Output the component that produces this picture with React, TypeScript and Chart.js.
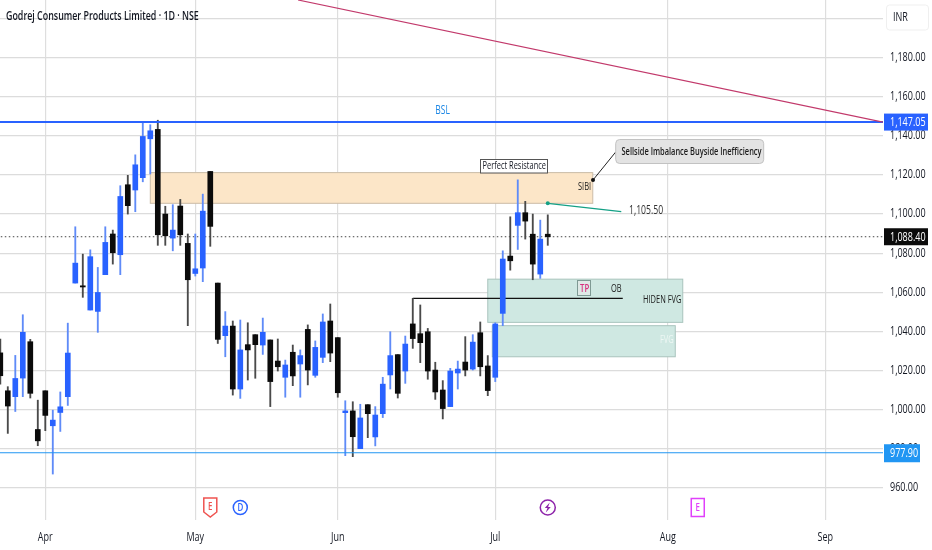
import React, { useEffect, useRef } from "react";
import { Chart, registerables } from "chart.js";

Chart.register(...registerables);

const title = "Godrej Consumer Products Limited · 1D · NSE";
const FONT = '"Open Sans", sans-serif';

// one value per session
const sessionOpen = [1029,1009.6,1006.6,1016.1,1034.7,989.8,1009.6,991.7,998.5,1006.6,1064.7,1063.3,1050.9,1050.2,1069,1089.8,1079.2,1115,1112.3,1118.6,1138.5,1143.3,1100,1087.7,1104.1,1085,1069.6,1072.4,1121.8,1064.7,1037.8,1042.7,1010.5,1033.2,1038.3,1033,1035.6,1024.8,1016.5,1029.3,1023.3,1041,1017.5,1026.7,1045.3,1036.8,998.4,999.3,980,1002.5,986,997.9,1017.7,1028.1,1019.7,1043.8,1038.8,1039.8,1020.2,1010,1001.5,1018.7,1024.3,1020.7,1039.3,1022.3,1016.5,1049.2,1078.5,1094.2,1100.7,1089.7,1069.3,1089.7];
const sessionClose = [1017.3,1001.8,1015.9,1039.5,1008.3,984,997,994.6,1001.4,1028.9,1074.9,1062.7,1078.2,1059.9,1085.5,1080.2,1109,1104.3,1125.2,1139.7,1142.6,1089.4,1088.9,1091.8,1089.4,1066.4,1072,1101.5,1093.7,1035.9,1042.7,1010.5,1030.5,1030.5,1033.2,1039.5,1014.3,1021.9,1022.8,1017.2,1027.6,1020.2,1031.8,1044.8,1028.9,1008.6,999.3,986.1,995.7,997.9,997.2,1013,1027.6,1008.3,1033.5,1036.3,1034.2,1019.7,1009,1000.5,1019.7,1020.7,1020.2,1034.5,1021.9,1009.7,1043.8,1077,1076.1,1100.7,1096.4,1074.4,1087.2,1088.4];
const sessionHigh = [1036,1011.7,1027.7,1048.5,1035.9,1004.8,1009.6,999.7,1009,1044.2,1093.5,1079.5,1081.7,1072.7,1093.5,1091.8,1114.5,1119.8,1130.3,1147,1145.7,1148,1104,1104.8,1107.5,1089.8,1089.8,1110.2,1121.8,1064.7,1050.1,1045.3,1045.8,1044.4,1038.3,1046.8,1035.6,1036.1,1025.3,1033,1030.5,1043.3,1035.1,1048.9,1054,1036.8,1004.5,1004,1002.7,1002.5,1001.5,1016.5,1039.8,1028.1,1037.6,1056.9,1053.5,1041.5,1024.2,1014.8,1021.1,1024.8,1037.3,1038.3,1044.8,1027.6,1044.4,1081.2,1098.6,1117.5,1106.5,1100,1096.9,1099.6];
const sessionLow = [1013,987.8,999,1006.6,1005.9,981.5,989.2,967,988.8,1002.1,1064.7,1057.4,1050.9,1039.5,1069,1074.4,1069,1100,1101.2,1116.5,1120.5,1084,1084,1081.2,1084,1042.9,1068.3,1065.4,1083.5,1033.8,1027,1007.4,1005.7,1015.1,1016,1028.2,1001.5,1019.7,1006.3,1012.2,1006.3,1012.6,1016.5,1024,1024.5,1006.3,976.4,975.9,980,985.6,981.4,995.9,1010.5,1005.9,1013.4,1031.3,1024,1015.5,1005.2,995.2,1001.5,1010.5,1017.2,1020.2,1017.2,1007.1,1014.3,1042.9,1071.3,1081.9,1087.2,1066.4,1067.1,1084];

const priceTicks = [1200,1180,1160,1140,1120,1100,1080,1060,1040,1020,1000,980,960];
const monthIndex = [6,26,45,66,89,110];
const monthNames = ["Apr","May","Jun","Jul","Aug","Sep"];

const bslLevel = 1147.05;
const supportLevel = 977.9;
const lastPrice = 1088.4;
const trendX = [39.7,117.7];
const trendY = [1209.5,1147.05];
const obLineX = [55,83];
const obLineY = [1056.9,1056.9];
const calloutX = [73,82.8];
const calloutY = [1105.5,1101.2];

const sibiZone = [20,79,1121.2,1105.5];
const hiddenFvgZone = [65,91,1066.7,1044.6];
const fvgZone = [65.6,90,1042.9,1027];

const BLUE = "#2962ff";
const BLACK = "#0b0b0b";
const BLUE_WICK = "#5f8bf8";
const BLACK_WICK = "#4a4a4a";
const isUp = sessionOpen.map((o, i) => sessionClose[i] >= o);

function zoneRect(chart: any, zone: number[]) {
  const { x, y } = chart.scales;
  return [x.getPixelForValue(zone[0]), y.getPixelForValue(zone[2]), x.getPixelForValue(zone[1]), y.getPixelForValue(zone[3])];
}

const zonesPlugin = {
  id: "zones",
  beforeDatasetsDraw(chart: any) {
    const { ctx } = chart;
    ctx.save();
    const paint = (zone: number[], fill: string, stroke: string) => {
      const [l, t, r, b] = zoneRect(chart, zone);
      ctx.fillStyle = fill;
      ctx.fillRect(l, t, r - l, b - t);
      ctx.strokeStyle = stroke;
      ctx.lineWidth = 1;
      ctx.strokeRect(l, t, r - l, b - t);
    };
    paint(sibiZone, "#fce6c8", "#cbbda8");
    paint(hiddenFvgZone, "#cfe8e2", "#a9c4bd");
    paint(fvgZone, "#cfe8e2", "#a9c4bd");
    ctx.restore();
  },
};

function tag(ctx: any, x: number, y: number, w: number, h: number, fill: string, text: string) {
  ctx.fillStyle = fill;
  ctx.fillRect(x, y, w, h);
  ctx.fillStyle = "#ffffff";
  ctx.textAlign = "left";
  ctx.textBaseline = "middle";
  ctx.fillText(text, x + 6, y + h / 2 + 0.5);
}

const overlayPlugin = {
  id: "overlay",
  afterDraw(chart: any) {
    const { ctx, scales } = chart;
    const xs = scales.x;
    const ys = scales.y;
    ctx.save();
    ctx.textBaseline = "middle";
    ctx.textAlign = "left";

    // title
    ctx.textSqueeze = 0.74;
    ctx.font = `600 12px ${FONT}`;
    ctx.fillStyle = "#131722";
    ctx.fillText(title, 6, 17);
    ctx.textSqueeze = 0.75;

    // INR box
    ctx.fillStyle = "#ffffff";
    ctx.strokeStyle = "#efefef";
    ctx.lineWidth = 1;
    ctx.beginPath();
    ctx.roundRect(886.5, 5, 42, 25, 3);
    ctx.fill();
    ctx.stroke();
    ctx.font = `500 12px ${FONT}`;
    ctx.fillStyle = "#131722";
    ctx.fillText("INR", 893, 18);

    // price tags
    tag(ctx, 884, ys.getPixelForValue(bslLevel) - 8.5, 44, 17, BLUE, "1,147.05");
    tag(ctx, 884, ys.getPixelForValue(lastPrice) - 8.5, 44, 17, "#0b0b0b", "1,088.40");
    tag(ctx, 884, ys.getPixelForValue(supportLevel) - 8.5, 36, 18, "#2196f3", "977.90");

    // zone labels
    ctx.textSqueeze = 0.71;
    ctx.fillStyle = "#1e88e5";
    ctx.font = `500 12px ${FONT}`;
    ctx.fillText("BSL", xs.getPixelForValue(58), ys.getPixelForValue(1153));
    ctx.fillStyle = "#1a1a1a";
    ctx.font = `500 10.5px ${FONT}`;
    ctx.fillText("SIBI", 578, 187);
    ctx.fillText("OB", 611, 289);
    ctx.fillText("HIDEN FVG", 643, 300);
    ctx.fillStyle = "#eef7f4";
    ctx.fillText("FVG", 660, 340);

    // TP box
    ctx.fillStyle = "#dfe9e6";
    ctx.strokeStyle = "#7f9a94";
    ctx.fillRect(578, 281, 12, 14);
    ctx.strokeRect(577.5, 280.5, 13, 15);
    ctx.fillStyle = "#d8317f";
    ctx.font = `600 11px ${FONT}`;
    ctx.fillText("TP", 580, 288.5);

    // Perfect Resistance
    ctx.fillStyle = "#ffffff";
    ctx.fillRect(480, 159, 68, 14);
    ctx.strokeStyle = "#555555";
    ctx.strokeRect(480.5, 159.5, 67, 13.5);
    ctx.fillStyle = "#131722";
    ctx.font = `500 10.5px ${FONT}`;
    ctx.fillText("Perfect Resistance", 482.5, 166.5);

    // Sellside note
    ctx.strokeStyle = "#222222";
    ctx.lineWidth = 1;
    ctx.beginPath();
    ctx.moveTo(615.7, 152);
    ctx.lineTo(593, 180);
    ctx.stroke();
    ctx.fillStyle = "#111111";
    ctx.beginPath();
    ctx.arc(593, 180, 2, 0, Math.PI * 2);
    ctx.fill();
    ctx.fillStyle = "#e3e3e3";
    ctx.strokeStyle = "#c2c2c2";
    ctx.beginPath();
    ctx.roundRect(615.7, 139.5, 148, 24, 4);
    ctx.fill();
    ctx.stroke();
    ctx.fillStyle = "#1a1a1a";
    ctx.font = `600 10.5px ${FONT}`;
    ctx.fillText("Sellside Imbalance Buyside Inefficiency", 621.5, 152);

    // callout
    ctx.fillStyle = "#14a085";
    ctx.beginPath();
    ctx.arc(xs.getPixelForValue(calloutX[0]), ys.getPixelForValue(calloutY[0]), 2, 0, Math.PI * 2);
    ctx.fill();
    ctx.fillStyle = "#333333";
    ctx.font = `500 12px ${FONT}`;
    ctx.textSqueeze = 0.72;
    ctx.fillText("1,105.50", 629, 211);

    // event icons
    const iconY = 507;
    const ex = xs.getPixelForValue(28);
    ctx.strokeStyle = "#ef5350";
    ctx.lineWidth = 1.5;
    ctx.beginPath();
    ctx.moveTo(ex - 6.5, iconY - 9);
    ctx.lineTo(ex + 6.5, iconY - 9);
    ctx.lineTo(ex + 6.5, iconY + 5);
    ctx.lineTo(ex, iconY + 10);
    ctx.lineTo(ex - 6.5, iconY + 5);
    ctx.closePath();
    ctx.stroke();
    ctx.textAlign = "center";
    ctx.fillStyle = "#ef5350";
    ctx.font = `600 11px ${FONT}`;
    ctx.fillText("E", ex, iconY);

    const dx = xs.getPixelForValue(32);
    ctx.strokeStyle = BLUE;
    ctx.beginPath();
    ctx.arc(dx, iconY + 0.5, 7, 0, Math.PI * 2);
    ctx.stroke();
    ctx.fillStyle = BLUE;
    ctx.fillText("D", dx, iconY + 0.5);

    const lx = xs.getPixelForValue(73);
    ctx.strokeStyle = "#8e24aa";
    ctx.beginPath();
    ctx.arc(lx, iconY + 0.5, 7.5, 0, Math.PI * 2);
    ctx.stroke();
    ctx.fillStyle = "#8e24aa";
    ctx.beginPath();
    ctx.moveTo(lx + 2, iconY - 4.5);
    ctx.lineTo(lx - 3, iconY + 1);
    ctx.lineTo(lx - 0.3, iconY + 1);
    ctx.lineTo(lx - 2, iconY + 5.5);
    ctx.lineTo(lx + 3, iconY);
    ctx.lineTo(lx + 0.3, iconY);
    ctx.closePath();
    ctx.fill();

    const px = xs.getPixelForValue(93);
    ctx.strokeStyle = "#e040fb";
    ctx.strokeRect(px - 6.5, iconY - 8.5, 13, 18);
    ctx.fillStyle = "#e040fb";
    ctx.fillText("E", px, iconY + 0.5);

    ctx.restore();
    ctx.textSqueeze = 0.75;
  },
};

function flat(level: number) {
  return [{ x: -1, y: level }, { x: 118, y: level }];
}
function pairs(xs: number[], ys: number[]) {
  return xs.map((x, i) => ({ x, y: ys[i] }));
}
function noPadding(s: any) {
  s.paddingTop = 0;
  s.paddingBottom = 0;
  s.paddingLeft = 0;
  s.paddingRight = 0;
}

export default function App() {
  const ref = useRef<HTMLCanvasElement>(null);
  useEffect(() => {
    document.body.style.margin = "0";
    document.body.style.background = "#ffffff";
    const canvas = ref.current as HTMLCanvasElement;
    // The reference's lettering is horizontally condensed and no narrow face is installed.
    const c2d: any = canvas.getContext("2d");
    const rawFill = c2d.fillText.bind(c2d);
    c2d.textSqueeze = 0.75;
    c2d.fillText = (t: string, x: number, y: number) => {
      c2d.save();
      c2d.translate(x, y);
      c2d.scale(c2d.textSqueeze, 1);
      rawFill(t, 0, 0);
      c2d.restore();
    };
    const lineBase = { type: "line", pointRadius: 0, fill: false, tension: 0 };
    const chart = new Chart(canvas, {
      type: "bar",
      data: {
        datasets: [
          { ...lineBase, label: "Trend", data: pairs(trendX, trendY), borderColor: "#c2396b", borderWidth: 1.2, order: 1 },
          { ...lineBase, label: "BSL", data: flat(bslLevel), borderColor: BLUE, borderWidth: 2, order: 1 },
          { ...lineBase, label: "Support", data: flat(supportLevel), borderColor: "#2196f3", borderWidth: 1.1, order: 1 },
          { ...lineBase, label: "Last", data: flat(lastPrice), borderColor: "#444444", borderWidth: 1, borderDash: [1.5, 2.5], order: 5 },
          { ...lineBase, label: "OB", data: pairs(obLineX, obLineY), borderColor: "#111111", borderWidth: 1.2, order: 5 },
          { ...lineBase, label: "Callout", data: pairs(calloutX, calloutY), borderColor: "#14a085", borderWidth: 1.2, order: 1 },
          {
            type: "bar",
            label: "Wick",
            data: sessionHigh.map((h, i) => ({ x: i, y: [sessionLow[i], h] })),
            backgroundColor: isUp.map((u) => (u ? BLUE_WICK : BLACK_WICK)),
            barThickness: 1.2,
            grouped: false,
            order: 4,
          },
          {
            type: "bar",
            label: "Body",
            data: sessionOpen.map((o, i) => ({ x: i, y: [o, sessionClose[i]] })),
            backgroundColor: isUp.map((u) => (u ? BLUE : BLACK)),
            barThickness: 5,
            grouped: false,
            order: 3,
          },
        ],
      } as any,
      options: {
        responsive: false,
        animation: false,
        layout: { padding: 0 },
        plugins: { legend: { display: false }, tooltip: { enabled: false }, title: { display: false } },
        scales: {
          x: {
            type: "linear",
            min: -0.04,
            max: 117.7,
            offset: false,
            grid: { color: "#dedede", lineWidth: 1.2, drawTicks: false, offset: false },
            border: { display: false },
            afterFit: (s: any) => { s.height = 30; noPadding(s); },
            afterBuildTicks: (s: any) => { s.ticks = monthIndex.map((value) => ({ value })); },
            ticks: {
              autoSkip: false,
              maxRotation: 0,
              padding: 10,
              color: "#131722",
              font: { family: FONT, size: 12, weight: 500 },
              callback: (v: any) => monthNames[monthIndex.indexOf(Number(v))] ?? "",
            },
          },
          y: {
            type: "linear",
            position: "right",
            min: 943.5,
            max: 1209.5,
            grid: { color: "#dcdcdc", lineWidth: 1.2, drawTicks: false },
            border: { display: false },
            afterFit: (s: any) => { s.width = 49; noPadding(s); },
            afterBuildTicks: (s: any) => { s.ticks = priceTicks.map((value) => ({ value })); },
            ticks: {
              autoSkip: false,
              padding: 7,
              color: "#131722",
              font: { family: FONT, size: 12, weight: 500 },
              callback: (v: any) =>
                Number(v).toLocaleString("en-US", { minimumFractionDigits: 2, maximumFractionDigits: 2 }),
            },
          },
        },
      } as any,
      plugins: [zonesPlugin, overlayPlugin],
    } as any);
    return () => chart.destroy();
  }, []);
  return (
    <div style={{ position: "fixed", left: 0, top: 0, width: 932, height: 550, background: "#ffffff" }}>
      <canvas ref={ref} width={932} height={550} style={{ display: "block" }} />
    </div>
  );
}
